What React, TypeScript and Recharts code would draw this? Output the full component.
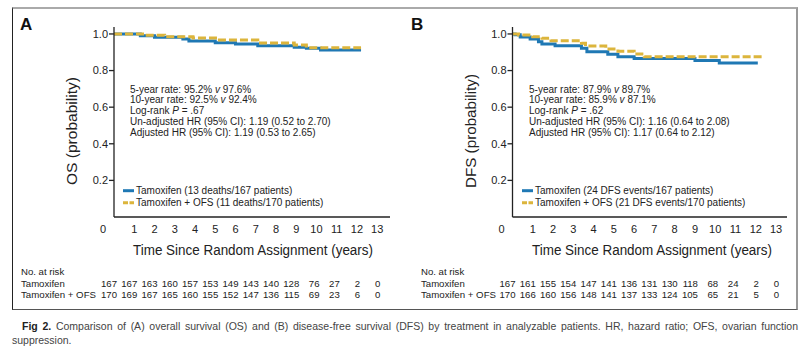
import { LineChart, Line, XAxis, YAxis } from "recharts"

// Kaplan-Meier steps: t = years, s = probability
const osTamoxifen = [
  { t: 0, s: 1 }, { t: 1.3, s: 0.99 }, { t: 2.0, s: 0.982 }, { t: 3.4, s: 0.972 },
  { t: 3.7, s: 0.962 }, { t: 5.0, s: 0.952 }, { t: 6.0, s: 0.945 }, { t: 7.1, s: 0.935 },
  { t: 8.9, s: 0.928 }, { t: 9.5, s: 0.922 }, { t: 10.2, s: 0.912 }, { t: 12.2, s: 0.912 },
]
const osOfs = [
  { t: 0, s: 1 }, { t: 1.5, s: 0.993 }, { t: 2.5, s: 0.985 }, { t: 3.9, s: 0.978 },
  { t: 5.1, s: 0.967 }, { t: 7.1, s: 0.951 }, { t: 8.9, s: 0.94 }, { t: 9.5, s: 0.925 },
  { t: 12.2, s: 0.925 },
]
const dfsTamoxifen = [
  { t: 0, s: 1 }, { t: 0.13, s: 0.995 }, { t: 0.38, s: 0.984 }, { t: 0.87, s: 0.973 },
  { t: 1.28, s: 0.958 }, { t: 1.45, s: 0.945 }, { t: 2.1, s: 0.936 }, { t: 3.4, s: 0.922 },
  { t: 3.67, s: 0.903 }, { t: 4.7, s: 0.889 }, { t: 5.2, s: 0.875 }, { t: 6.0, s: 0.866 },
  { t: 9.0, s: 0.855 }, { t: 10.2, s: 0.842 }, { t: 12.1, s: 0.842 },
]
const dfsOfs = [
  { t: 0, s: 1 }, { t: 0.3, s: 0.994 }, { t: 1.0, s: 0.985 }, { t: 1.45, s: 0.976 },
  { t: 1.9, s: 0.963 }, { t: 3.4, s: 0.949 }, { t: 3.6, s: 0.934 }, { t: 4.6, s: 0.918 },
  { t: 5.2, s: 0.906 }, { t: 6.0, s: 0.89 }, { t: 6.5, s: 0.875 }, { t: 12.3, s: 0.875 },
]

const xTicks = [0, 1, 2, 3, 4, 5, 6, 7, 8, 9, 10, 11, 12, 13]
const yTicks = [0.2, 0.4, 0.6, 0.8, 1.0]

const riskOsTam = [167, 167, 163, 160, 157, 153, 149, 143, 140, 128, 76, 27, 2, 0]
const riskOsOfs = [170, 169, 167, 165, 160, 155, 152, 147, 136, 115, 69, 23, 6, 0]
const riskDfsTam = [167, 161, 155, 154, 147, 141, 136, 131, 130, 118, 68, 24, 2, 0]
const riskDfsOfs = [170, 166, 160, 156, 148, 141, 137, 133, 124, 105, 65, 21, 5, 0]

const osStats = ["5-year rate: 95.2%", "97.6%", "10-year rate: 92.5%", "92.4%", ".67",
  "Un-adjusted HR (95% CI): 1.19 (0.52 to 2.70)", "Adjusted HR (95% CI): 1.19 (0.53 to 2.65)"]
const dfsStats = ["5-year rate: 87.9%", "89.7%", "10-year rate: 85.9%", "87.1%", ".62",
  "Un-adjusted HR (95% CI): 1.16 (0.64 to 2.08)", "Adjusted HR (95% CI): 1.17 (0.64 to 2.12)"]

const BLUE = "#1f78b4"
const GOLD = "#dcb53c"
const SANS = "'Liberation Sans', Arial, sans-serif"

const XTick = (props: any) => {
  const { x, y, payload } = props
  return (
    <text x={payload.value === 0 ? x - 11 : x} y={y} dy="0.71em" textAnchor="middle"
      fontSize={11} fontFamily={SANS} fill="#222">{payload.value}</text>
  )
}

function Panel({ tam, ofs, xMax, left, width, marginLeft, plotWidth }: any) {
  return (
    <div style={{ position: "absolute", left, top: 0 }}>
      <LineChart width={width} height={260} margin={{ top: 27, right: width - marginLeft - 60 - plotWidth, bottom: 13, left: marginLeft }}>
        <XAxis type="number" dataKey="t" domain={[0, xMax]} ticks={xTicks} allowDataOverflow height={30}
          stroke="#222" strokeWidth={1.3} tickLine={false} tick={<XTick />} interval={0} />
        <YAxis type="number" dataKey="s" domain={[0, 1.038]} ticks={yTicks} width={60}
          stroke="#222" strokeWidth={1.3} tickSize={5} tickMargin={1} allowDataOverflow
          tickFormatter={(v: number) => v.toFixed(1)}
          tick={{ fontSize: 11, fontFamily: SANS, fill: "#222" }} />
        <Line data={tam} dataKey="s" type="stepAfter" stroke={BLUE} strokeWidth={3}
          dot={false} isAnimationActive={false} />
        <Line data={ofs} dataKey="s" type="stepAfter" stroke={GOLD} strokeWidth={3}
          strokeDasharray="8 3" dot={false} isAnimationActive={false} />
      </LineChart>
    </div>
  )
}

function Stats({ x, lines }: { x: number; lines: string[] }) {
  const y0 = 92.5
  const dy = 10.9
  return (
    <g fontSize={10} fontFamily={SANS} fill="#222">
      <text x={x} y={y0}>{lines[0]} <tspan fontStyle="italic">v</tspan> {lines[1]}</text>
      <text x={x} y={y0 + dy}>{lines[2]} <tspan fontStyle="italic">v</tspan> {lines[3]}</text>
      <text x={x} y={y0 + 2 * dy}>Log-rank <tspan fontStyle="italic">P</tspan> = {lines[4]}</text>
      <text x={x} y={y0 + 3 * dy}>{lines[5]}</text>
      <text x={x} y={y0 + 4 * dy}>{lines[6]}</text>
    </g>
  )
}

function LegendBox({ x, tamLabel, ofsLabel }: { x: number; tamLabel: string; ofsLabel: string }) {
  return (
    <g fontSize={10} fontFamily={SANS} fill="#222">
      <line x1={x} x2={x + 11} y1={190.7} y2={190.7} stroke={BLUE} strokeWidth={3} />
      <text x={x + 13} y={194.3}>{tamLabel}</text>
      <line x1={x} x2={x + 11} y1={202.7} y2={202.7} stroke={GOLD} strokeWidth={3} strokeDasharray="5 1.5" />
      <text x={x + 13} y={206.3}>{ofsLabel}</text>
    </g>
  )
}

function RiskTable({ labelX, x0, step, tam, ofs }: any) {
  return (
    <g fontSize={9.6} fontFamily={SANS} fill="#222">
      <text x={labelX} y={274.5}>No. at risk</text>
      <text x={labelX} y={286.5}>Tamoxifen</text>
      <text x={labelX} y={297.5} textLength={75} lengthAdjust="spacingAndGlyphs">Tamoxifen + OFS</text>
      {tam.map((n: number, i: number) => (
        <text key={"a" + i} x={x0 + i * step + 3} y={286.5} textAnchor="end">{n}</text>
      ))}
      {ofs.map((n: number, i: number) => (
        <text key={"b" + i} x={x0 + i * step + 3} y={297.5} textAnchor="end">{n}</text>
      ))}
    </g>
  )
}

function Narrow({ x, y, len, rotate, children }: any) {
  return (
    <text transform={`translate(${x},${y})${rotate ? " rotate(-90)" : ""}`} textAnchor="middle"
      fontSize={15.5} fontFamily={SANS} fill="#222" textLength={len} lengthAdjust="spacingAndGlyphs">
      {children}
    </text>
  )
}

export default function App() {
  return (
    <div style={{ position: "absolute", left: 0, top: 0, width: 807, height: 350, background: "#fff", overflow: "hidden" }}>
      <div style={{
        position: "absolute", left: 12, top: 7, width: 783, height: 300,
        borderTop: "2px solid #aaa", borderRight: "2px solid #999",
        borderLeft: "1px solid #222", borderBottom: "1.5px solid #555",
      }} />
      <Panel tam={osTamoxifen} ofs={osOfs} xMax={13.63} left={0} width={400} marginLeft={54} plotWidth={276} />
      <Panel tam={dfsTamoxifen} ofs={dfsOfs} xMax={13.54} left={400} width={400} marginLeft={52.5} plotWidth={274.5} />
      <svg width={807} height={350} style={{ position: "absolute", left: 0, top: 0, pointerEvents: "none" }}>
        <text x={20} y={30} fontSize={17} fontWeight="bold" fontFamily={SANS} fill="#111">A</text>
        <text x={411} y={30} fontSize={17} fontWeight="bold" fontFamily={SANS} fill="#111">B</text>
        <Narrow x={77} y={131} len={108} rotate>OS (probability)</Narrow>
        <Narrow x={476} y={131} len={114} rotate>DFS (probability)</Narrow>
        <Narrow x={253} y={255} len={240}>Time Since Random Assignment (years)</Narrow>
        <Narrow x={652} y={255} len={240}>Time Since Random Assignment (years)</Narrow>
        <Stats x={130} lines={osStats} />
        <Stats x={529} lines={dfsStats} />
        <LegendBox x={123} tamLabel="Tamoxifen (13 deaths/167 patients)" ofsLabel="Tamoxifen + OFS (11 deaths/170 patients)" />
        <LegendBox x={522} tamLabel="Tamoxifen (24 DFS events/167 patients)" ofsLabel="Tamoxifen + OFS (21 DFS events/170 patients)" />
        <RiskTable labelX={21} x0={114} step={20.25} tam={riskOsTam} ofs={riskOsOfs} />
        <RiskTable labelX={421} x0={512.5} step={20.27} tam={riskDfsTam} ofs={riskDfsOfs} />
      </svg>
      <div style={{ position: "absolute", left: 12, top: 319, width: 786, fontFamily: SANS, fontSize: 10.5, lineHeight: "14px", color: "#444" }}>
        <div style={{ textAlign: "justify", textAlignLast: "justify", textIndent: 10 }}>
          <b style={{ color: "#222" }}>Fig 2.</b>{"  "}Comparison of (A) overall survival (OS) and (B) disease-free survival (DFS) by treatment in analyzable patients. HR, hazard ratio; OFS, ovarian function
        </div>
        <div>suppression.</div>
      </div>
    </div>
  )
}
